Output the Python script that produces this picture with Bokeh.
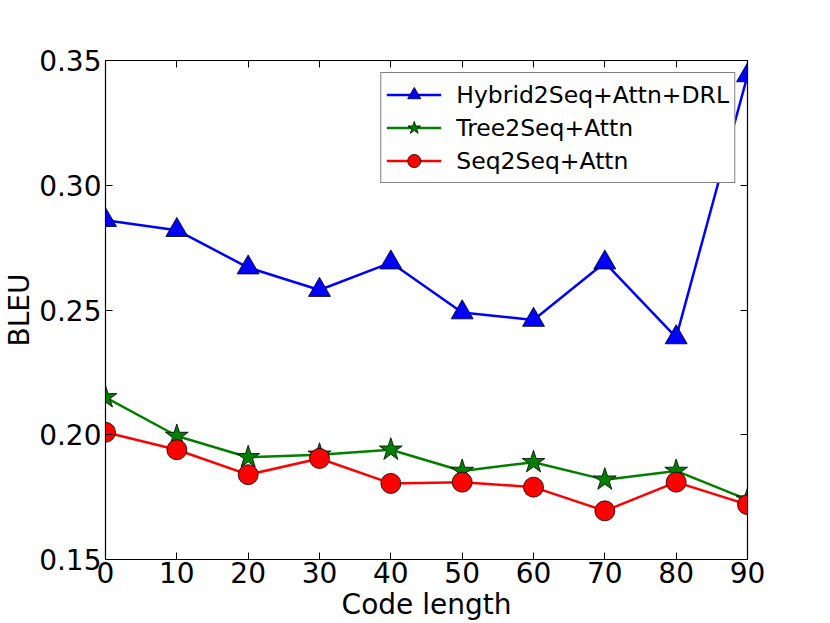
from bokeh.plotting import figure
from bokeh.models import LinearAxis, FixedTicker, Range1d, Legend, LegendItem
from bokeh.embed import file_html
from bokeh.resources import INLINE

code_length = [0, 10, 20, 30, 40, 50, 60, 70, 80, 90]
hybrid = [0.286, 0.282, 0.267, 0.258, 0.269, 0.249, 0.246, 0.269, 0.239, 0.344]
tree = [0.215, 0.1995, 0.191, 0.192, 0.194, 0.1855, 0.189, 0.182, 0.1855, 0.174]
seq = [0.201, 0.194, 0.184, 0.1905, 0.1805, 0.181, 0.179, 0.1695, 0.181, 0.172]
x_ticks = [0, 10, 20, 30, 40, 50, 60, 70, 80, 90]
y_ticks = [0.15, 0.20, 0.25, 0.30, 0.35]
y_tick_labels = {0.15: "0.15", 0.2: "0.20", 0.25: "0.25", 0.3: "0.30", 0.35: "0.35"}
series_names = ["Hybrid2Seq+Attn+DRL", "Tree2Seq+Attn", "Seq2Seq+Attn"]

FONT = "DejaVu Sans"

p = figure(width=830, height=623, output_backend="svg", toolbar_location=None,
           x_range=Range1d(0, 90), y_range=Range1d(0.15, 0.35),
           min_border_left=104, min_border_right=83, min_border_top=60,
           min_border_bottom=63, x_axis_location=None, y_axis_location=None)
p.grid.visible = False
p.outline_line_color = "black"
p.outline_line_width = 1.2
p.background_fill_color = "white"
p.border_fill_color = "white"

xb = LinearAxis(ticker=FixedTicker(ticks=x_ticks), axis_label="Code length")
xt = LinearAxis(ticker=FixedTicker(ticks=x_ticks))
yl = LinearAxis(ticker=FixedTicker(ticks=y_ticks), major_label_overrides=y_tick_labels,
                axis_label="BLEU")
yr = LinearAxis(ticker=FixedTicker(ticks=y_ticks))
for ax in (xb, xt, yl, yr):
    ax.major_tick_in = 7
    ax.major_tick_out = 0
    ax.minor_tick_line_color = None
    ax.axis_line_color = "black"
    ax.major_tick_line_color = "black"
    ax.major_tick_line_width = 1
    ax.major_label_text_font = FONT
    ax.major_label_text_font_size = "28px"
    ax.major_label_text_color = "black"
    ax.axis_label_text_font = FONT
    ax.axis_label_text_font_size = "28px"
    ax.axis_label_text_font_style = "normal"
    ax.axis_label_text_color = "black"
for ax in (xt, yr):
    ax.major_label_text_font_size = "0px"
    ax.major_label_text_color = None
    ax.major_label_standoff = 0
xb.major_label_standoff = 2
xb.major_label_text_line_height = 1.0
xb.axis_label_standoff = 2
xb.axis_label_text_line_height = 0.6
yl.major_label_standoff = 4
yl.axis_label_standoff = 0
yl.axis_label_text_line_height = 0.6
p.add_layout(xb, "below")
p.add_layout(xt, "above")
p.add_layout(yl, "left")
p.add_layout(yr, "right")

r1l = p.line(code_length, hybrid, line_color="#0000ff", line_width=2.5)
r1m = p.scatter(code_length, hybrid, marker="triangle", size=22,
                fill_color="#0000ff", line_color="black", line_width=0.8)
r2l = p.line(code_length, tree, line_color="#007f00", line_width=2.5)
r2m = p.scatter(code_length, tree, marker="star", size=24,
                fill_color="#007f00", line_color="black", line_width=0.8)
r3l = p.line(code_length, seq, line_color="#ff0000", line_width=2.5)
r3m = p.scatter(code_length, seq, marker="circle", size=20,
                fill_color="#ff0000", line_color="black", line_width=0.8)

legend = Legend(items=[
    LegendItem(label=series_names[0], renderers=[r1l, r1m]),
    LegendItem(label=series_names[1], renderers=[r2l, r2m]),
    LegendItem(label=series_names[2], renderers=[r3l, r3m]),
], location="top_right")
legend.margin = 12
legend.padding = 5
legend.spacing = 0
legend.glyph_width = 55
legend.glyph_height = 33
legend.label_height = 33
legend.label_standoff = 15
legend.label_text_font = FONT
legend.label_text_font_size = "23.5px"
legend.label_text_color = "black"
legend.border_line_color = "black"
legend.border_line_width = 1
legend.background_fill_color = "white"
legend.background_fill_alpha = 1.0
p.add_layout(legend, "center")

open("out.html", "w").write(file_html(p, INLINE))
